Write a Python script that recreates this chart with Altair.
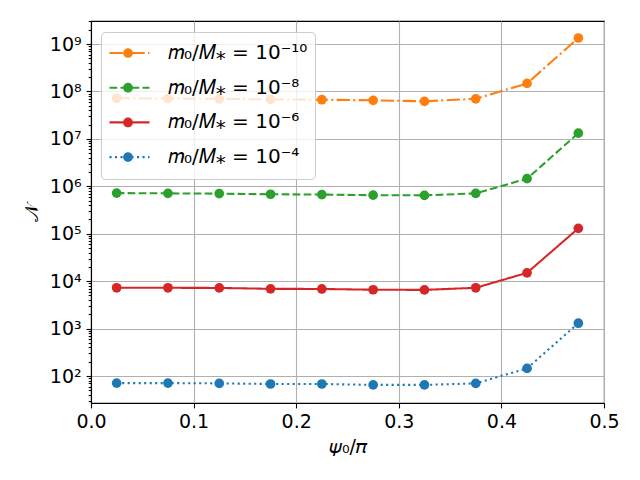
import altair as alt
import pandas as pd

# data
x_vals = [0.025, 0.075, 0.125, 0.175, 0.225, 0.275, 0.325, 0.375, 0.425, 0.475]
labels = ["𝑚₀/𝑀⁎ = 10⁻¹⁰", "𝑚₀/𝑀⁎ = 10⁻⁸", "𝑚₀/𝑀⁎ = 10⁻⁶", "𝑚₀/𝑀⁎ = 10⁻⁴"]
keys = ["a", "b", "c", "d"]
colors = ["#ff7f0e", "#2ca02c", "#d62728", "#1f77b4"]
dashes = [[13.3, 3.3, 2.1, 3.3], [7.7, 3.3], [1, 0], [2.1, 3.4]]
s_m10 = [7.2e7, 7.1e7, 7.0e7, 6.8e7, 6.7e7, 6.5e7, 6.2e7, 7.0e7, 1.48e8, 1.34e9]
s_m8 = [7.2e5, 7.1e5, 7.0e5, 6.8e5, 6.7e5, 6.5e5, 6.45e5, 7.1e5, 1.45e6, 1.32e7]
s_m6 = [7250, 7250, 7200, 6900, 6850, 6600, 6550, 7250, 15000, 1.3e5]
s_m4 = [71, 71, 70, 68, 68, 65, 65, 70, 145, 1300]
series = [s_m10, s_m8, s_m6, s_m4]
y_ticks = [1e2, 1e3, 1e4, 1e5, 1e6, 1e7, 1e8, 1e9]
x_ticks = [0.0, 0.1, 0.2, 0.3, 0.4, 0.5]

rows = []
for lab, key, vals in zip(labels, keys, series):
    for xv, yv in zip(x_vals, vals):
        rows.append({"x": xv, "y": yv, "label": lab, "key": key})
df = pd.DataFrame(rows)

minor = [m * 10 ** k for k in range(1, 10) for m in range(2, 10)
         if 27 <= m * 10 ** k <= 3.06e9]

FONT = "DejaVu Sans"
FS = 19
sup = "['10⁰','10¹','10²','10³','10⁴','10⁵','10⁶','10⁷','10⁸','10⁹'][round(log(datum.value)/LN10)]"

xscale = alt.Scale(domain=[0, 0.5], nice=False, zero=False)
yscale = alt.Scale(type="log", domain=[27, 3.06e9], nice=False)

legend_common = dict(
    orient="none", legendX=10, legendY=11, padding=7, clipHeight=28,
    rowPadding=6.7, labelFontSize=FS, labelFont=FONT, labelOffset=17,
    symbolSize=1600, title=None, labelLimit=400,
)

line_legend = alt.Legend(symbolType="M-1,0H1", symbolStrokeWidth=2.08,
                         fillColor="rgba(255,255,255,0.8)",
                         strokeColor="#cccccc", cornerRadius=4,
                         labelFontSize=20, **{k: v for k, v in legend_common.items()
                                              if k != "labelFontSize"})

lines = alt.Chart(df).mark_line(strokeWidth=2.08).encode(
    x=alt.X("x:Q", scale=xscale,
            axis=alt.Axis(values=x_ticks, format=".1f", title="𝜓₀/𝜋",
                          grid=True, labelFlush=False)),
    y=alt.Y("y:Q", scale=yscale,
            axis=alt.Axis(values=y_ticks, labelExpr=sup, title="𝒩", grid=True,
                          orient="left", labelFlush=False)),
    color=alt.Color("label:N", scale=alt.Scale(domain=labels, range=colors),
                    legend=line_legend),
    strokeDash=alt.StrokeDash("label:N", scale=alt.Scale(domain=labels, range=dashes),
                              legend=line_legend),
    detail="label:N",
)

points = alt.Chart(df).mark_point(filled=True, size=94, opacity=1, strokeWidth=0).encode(
    x=alt.X("x:Q", scale=xscale),
    y=alt.Y("y:Q", scale=yscale,
            axis=alt.Axis(values=minor, labels=False, title=None, grid=False,
                          domain=False, tickSize=2.8, orient="left")),
    fill=alt.Fill("key:N", scale=alt.Scale(domain=keys, range=colors),
                  legend=alt.Legend(symbolType="M0.2425,0A0.2425,0.2425,0,1,1,-0.2425,0A0.2425,0.2425,0,1,1,0.2425,0Z",
                                    symbolStrokeWidth=0, labelExpr="''",
                                    **legend_common)),
)

chart = alt.layer(lines, points).resolve_axis(y="independent").properties(
    width=513, height=382,
    autosize=alt.AutoSizeParams(type="none"),
    padding={"left": 83, "top": 13, "right": 28, "bottom": 69},
).configure_view(stroke="black", strokeWidth=1.1).configure_axis(
    labelFont=FONT, titleFont=FONT, labelFontSize=FS, titleFontSize=FS,
    labelColor="black", titleColor="black", titleFontWeight="normal",
    tickColor="black", tickWidth=1.1, tickSize=4.9, domainColor="black",
    domainWidth=1.1, gridColor="#b0b0b0", gridWidth=1.1, labelPadding=5,
).configure_axisY(titlePadding=8).configure_axisX(titlePadding=6)

chart.save("out.html", embed_options={"renderer": "svg", "actions": False})
